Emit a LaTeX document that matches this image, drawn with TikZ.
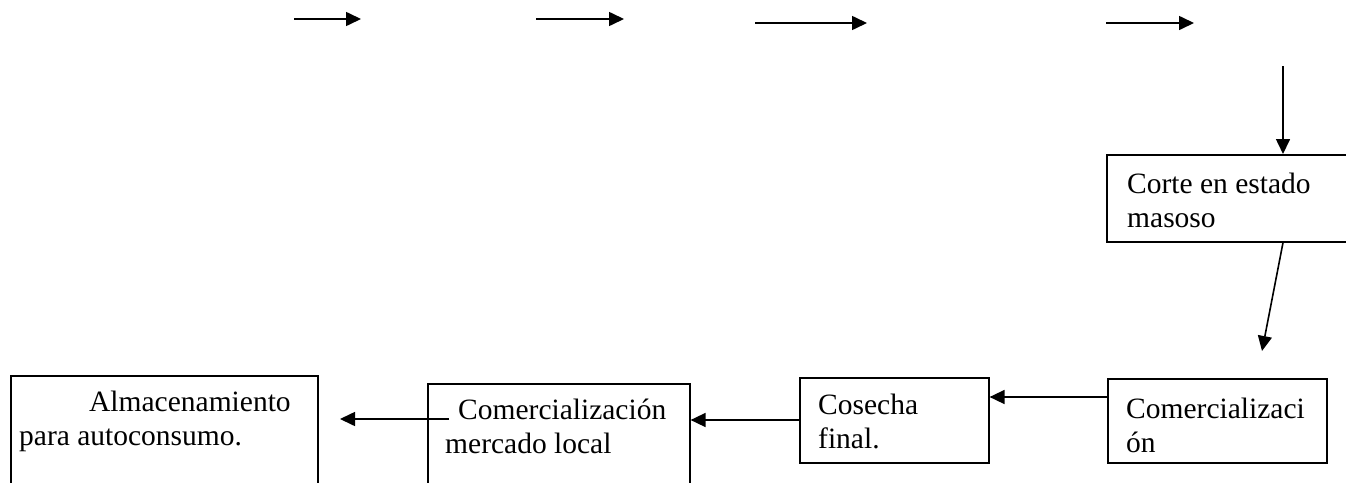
\documentclass[tikz,border=0pt]{standalone}
\usepackage{fontspec}
\setmainfont{Liberation Serif}
\usetikzlibrary{arrows.meta}
\begin{document}
\begin{tikzpicture}[x=1pt,y=-1pt,
  conn/.style={line width=1.6pt,-{Triangle[length=15pt,width=14pt]}},
  boxshape/.style={draw,line width=1.6pt,rectangle,anchor=north west,inner sep=0pt},
  boxtext/.style={anchor=north west,inner sep=0pt,align=left,font=\fontsize{29.5}{34}\selectfont}]
\useasboundingbox (0,0) rectangle (1346,482);
\clip (0,0) rectangle (1346,482);
% top free arrows
\coordinate (t1a) at (294,19); \coordinate (t1b) at (361,19);
\coordinate (t2a) at (536,19); \coordinate (t2b) at (624,19);
\coordinate (t3a) at (755,23); \coordinate (t3b) at (867,23);
\coordinate (t4a) at (1106,23); \coordinate (t4b) at (1194,23);
\draw[conn] (t1a) -- (t1b);
\draw[conn] (t2a) -- (t2b);
\draw[conn] (t3a) -- (t3b);
\draw[conn] (t4a) -- (t4b);
% boxes
\node[boxshape,minimum width=250pt,minimum height=87pt] (corte) at (1106,154) {};
\node[boxtext] (cortet) at (1127,169) {\strut Corte en estado\\masoso};
\node[boxshape,minimum width=219pt,minimum height=84pt] (com1) at (1107,378) {};
\node[boxtext] (com1t) at (1126,394) {\strut Comercializaci\\ón};
\node[boxshape,minimum width=189pt,minimum height=85pt] (cos) at (799,377) {};
\node[boxtext] (cost) at (818,390) {\strut Cosecha\\final.};
\node[boxshape,minimum width=262pt,minimum height=130pt] (com2) at (427,383) {};
\node[boxtext] (com2t) at (445,395) {\strut\hspace*{13pt}Comercialización\\mercado local};
\node[boxshape,minimum width=307pt,minimum height=130pt] (alm) at (10,375) {};
\node[boxtext] (almt) at (19,387) {\strut\hspace*{70pt}Almacenamiento\\para autoconsumo.};
% connectors
\coordinate (vtop) at (1283,66);
\draw[conn] (vtop) -- (vtop |- corte.north);
\coordinate (slend) at (1262,351);
\draw[conn] (corte.south -| vtop) -- (slend);
\draw[conn] (com1.west |- 0,397) -- (cos.east |- 0,397);
\draw[conn] (cos.west |- 0,420) -- (com2.east |- 0,420);
\coordinate (c2start) at (449,419);
\draw[conn] (c2start) -- (340,419);
\end{tikzpicture}
\end{document}
